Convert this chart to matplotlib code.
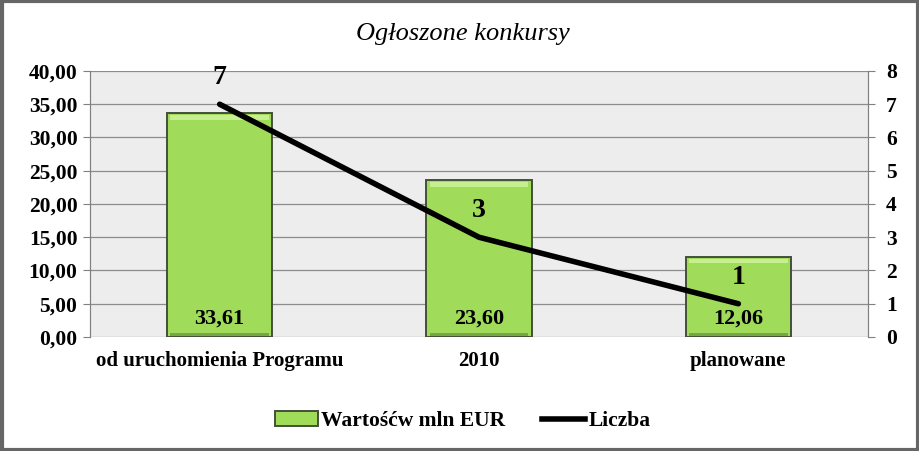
import numpy as np
import matplotlib.pyplot as plt
from matplotlib.patches import Rectangle
from matplotlib.lines import Line2D

categories = ["od uruchomienia Programu", "2010", "planowane"]
values = [33.61, 23.60, 12.06]
counts = [7, 3, 1]
value_labels = ["33,61", "23,60", "12,06"]

plt.rcParams['font.family'] = ['Liberation Serif', 'DejaVu Serif']
plt.rcParams['font.weight'] = 'bold'

fig = plt.figure(figsize=(9.2, 4.51), dpi=100)
ax = fig.add_axes([0.0978, 0.2528, 0.8457, 0.5898])
ax2 = ax.twinx()

x = np.arange(len(categories))
ax.set_facecolor('#ededed')
bars = ax.bar(x, values, width=0.405, color='#a0dc5a', edgecolor='#44503a', linewidth=1.4, zorder=3)
# bevel: light strip at the top, darker strip at the bottom
for b in bars:
    ax.add_patch(Rectangle((b.get_x() + 0.012, b.get_height() - 1.0), b.get_width() - 0.024, 0.7,
                           facecolor='#c6ef90', edgecolor='none', zorder=4))
    ax.add_patch(Rectangle((b.get_x() + 0.012, 0.12), b.get_width() - 0.024, 0.45,
                           facecolor='#76a646', edgecolor='none', zorder=4))

for xi, lbl in zip(x, value_labels):
    ax.text(xi, 2.7, lbl, ha='center', va='center', fontsize=16, fontweight='bold', zorder=5)

ax.set_xlim(-0.5, 2.5)
ax.set_ylim(0, 40)
ax.set_yticks(np.arange(0, 41, 5))
ax.set_yticklabels([f"{v:.2f}".replace('.', ',') for v in np.arange(0, 41, 5)])
ax.yaxis.grid(True, color='#8c8c8c', linewidth=0.9, zorder=0)
ax.set_axisbelow(True)
ax.set_xticks(x)
ax.set_xticklabels(categories)
ax.tick_params(axis='x', length=0, pad=10, labelsize=15)
ax.tick_params(axis='y', length=5, color='#808080', labelsize=15.5, pad=4)

ax2.plot(x, counts, color='black', linewidth=4, solid_capstyle='round', zorder=6)
ax2.set_ylim(0, 8)
ax2.set_yticks(range(0, 9))
ax2.tick_params(axis='y', length=5, color='#808080', labelsize=15.5, pad=8)
for xi, c in zip(x, counts):
    ax2.text(xi, c + 0.42, str(c), ha='center', va='bottom', fontsize=20, fontweight='bold')

for a in (ax, ax2):
    a.spines['top'].set_visible(False)
    a.spines['bottom'].set_visible(False)
    a.spines['left'].set_color('#808080')
    a.spines['right'].set_color('#808080')
for lab in ax.get_yticklabels() + ax2.get_yticklabels() + ax.get_xticklabels():
    lab.set_fontweight('bold')

fig.text(0.503, 0.925, "Ogłoszone konkursy", ha='center', va='center', fontsize=19,
         style='italic', fontweight='normal')

handles = [Rectangle((0, 0), 1, 1, facecolor='#a0dc5a', edgecolor='#44503a', linewidth=1.4),
           Line2D([0], [0], color='black', linewidth=4)]
fig.legend(handles, ["Wartośćw mln EUR", "Liczba"], loc='center', bbox_to_anchor=(0.503, 0.066),
           ncol=2, frameon=False, handlelength=2.0, handletextpad=0.15, columnspacing=1.7,
           prop={'weight': 'bold', 'size': 15.5})

fig.patches.append(Rectangle((0.002, 0.003), 0.996, 0.994, transform=fig.transFigure,
                             fill=False, edgecolor='#666666', linewidth=3))

fig.savefig("out.png", dpi=100)
